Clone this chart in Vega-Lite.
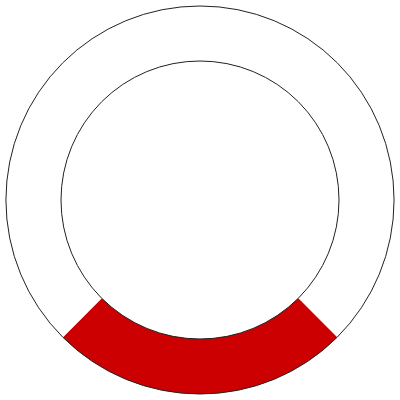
{
  "$schema": "https://vega.github.io/schema/vega-lite/v6.json",
  "width": 400,
  "height": 400,
  "padding": 0,
  "autosize": {"type": "fit", "contains": "padding"},
  "background": "white",
  "view": {"stroke": null},
  "layer": [
    {
      "data": {"values": [
        {"segment": "start", "idx": 1, "value": 37.5},
        {"segment": "red", "idx": 2, "value": 25},
        {"segment": "end", "idx": 3, "value": 37.5}
      ]},
      "mark": {"type": "arc", "radius": 194, "radius2": 139, "strokeWidth": 0},
      "encoding": {
        "theta": {"field": "value", "type": "quantitative", "stack": true},
        "order": {"field": "idx", "type": "quantitative", "sort": "ascending"},
        "color": {
          "field": "segment",
          "type": "nominal",
          "scale": {"domain": ["start", "red", "end"], "range": ["#ffffff", "#cc0000", "#ffffff"]},
          "legend": null
        }
      }
    },
    {
      "data": {"values": [{"ring": "outline"}]},
      "mark": {"type": "arc", "radius": 194, "radius2": 139, "theta": 0, "theta2": 6.283185307179586, "fill": null, "fillOpacity": 0, "stroke": "#222222", "strokeWidth": 1},
      "encoding": {}
    }
  ]
}
